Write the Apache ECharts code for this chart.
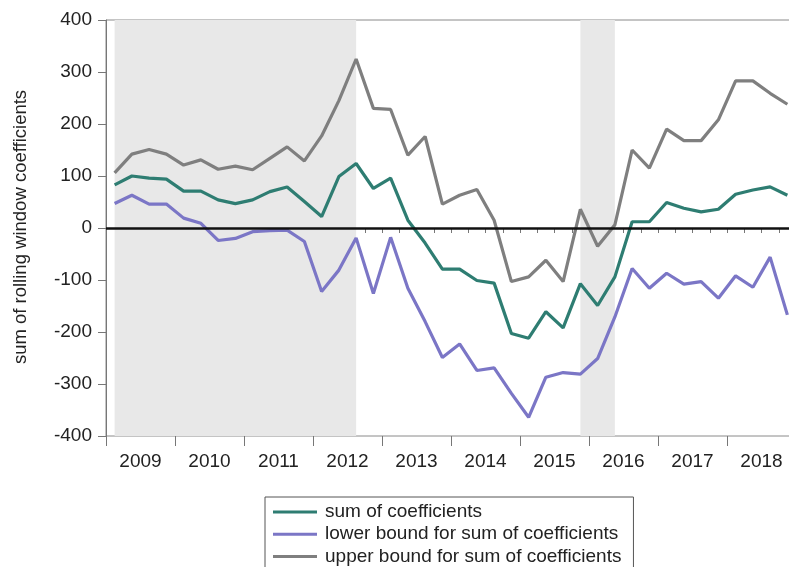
<!DOCTYPE html>
<html>
<head>
<meta charset="utf-8">
<script src="https://cdn.jsdelivr.net/npm/echarts@6/dist/echarts.min.js"></script>
<style>
html,body{margin:0;padding:0;background:#fff;}
#chart{width:789px;height:567px;}
</style>
</head>
<body>
<div id="chart"></div>
<script>
// ---- data ----
var years = [2009, 2010, 2011, 2012, 2013, 2014, 2015, 2016, 2017, 2018];
var quarters = ['Q1', 'Q2', 'Q3', 'Q4'];
var categories = [];
years.forEach(function (y) { quarters.forEach(function (q) { categories.push(y + q); }); });

var sumCoef = [83, 100, 96, 94, 71, 71, 54, 47, 54, 70, 79, 51, 22, 99, 124,
  76, 96, 15, -29, -79, -79, -101, -106, -203, -212, -161, -192, -107, -149,
  -94, 12, 12, 49, 38, 31, 36, 65, 73, 79, 63];
var lowerBound = [47, 63, 46, 46, 19, 9, -24, -20, -7, -5, -4, -26, -122, -81, -19,
  -126, -18, -116, -180, -249, -223, -274, -269, -318, -364, -287, -278, -281, -251,
  -171, -78, -116, -87, -108, -103, -135, -92, -114, -56, -167];
var upperBound = [106, 142, 151, 142, 121, 131, 113, 119, 112, 134, 156, 129, 177, 245, 325,
  230, 228, 140, 176, 46, 63, 74, 15, -103, -94, -62, -103, 36, -35,
  6, 150, 115, 190, 168, 168, 208, 283, 283, 259, 238];
var shaded = [['2009Q1', '2012Q3'], ['2015Q4', '2016Q2']];
var yTicks = { min: -400, max: 400, step: 100 };
var seriesNames = ['sum of coefficients', 'lower bound for sum of coefficients', 'upper bound for sum of coefficients'];

var chart = echarts.init(document.getElementById('chart'), null, { renderer: 'canvas' });
var FONT = 'Liberation Sans, Arial, sans-serif';
var nQ = categories.length;

var option = {
  animation: false,
  backgroundColor: '#fff',
  grid: { left: 106, top: 20, width: 690, height: 416, show: true, borderColor: '#8a8a8a', borderWidth: 1, containLabel: false, outerBoundsMode: 'none' },
  graphic: [{
    type: 'text', x: 21, y: 227, rotation: Math.PI / 2,
    style: { text: 'sum of rolling window coefficients', font: '18.5px ' + FONT, fill: '#222', align: 'center', verticalAlign: 'middle' }
  }],
  legend: {
    orient: 'vertical', left: 265, top: 497, height: 150,
    data: seriesNames,
    icon: 'rect', itemWidth: 44, itemHeight: 3, itemGap: 0.2,
    padding: [4, 12, 8, 8],
    borderColor: '#555', borderWidth: 1,
    textStyle: { fontFamily: FONT, fontSize: 19, color: '#222', lineHeight: 22, padding: [0, 0, 0, 3] }
  },
  xAxis: [
    {
      type: 'category', data: categories, boundaryGap: true, position: 'bottom',
      axisLine: { show: true, lineStyle: { color: '#777', width: 1 } },
      axisTick: { show: true, interval: 0, length: 5, lineStyle: { color: '#777' } },
      axisLabel: { show: false }, splitLine: { show: false }
    },
    {
      type: 'value', min: 0, max: nQ, interval: 4, gridIndex: 0, position: 'bottom',
      axisLine: { show: false },
      axisTick: { show: true, length: 10, lineStyle: { color: '#777' } },
      axisLabel: { show: false }, splitLine: { show: false }
    },
    {
      type: 'value', min: 0, max: nQ, interval: 2, gridIndex: 0, position: 'bottom',
      axisLine: { show: false }, axisTick: { show: false }, splitLine: { show: false },
      axisLabel: {
        show: true, margin: 16, fontFamily: FONT, fontSize: 19, color: '#222',
        formatter: function (v) {
          var k = (v - 2) / 4;
          if (k >= 0 && k < years.length && Math.abs(k - Math.round(k)) < 1e-6) return String(years[Math.round(k)]);
          return '';
        }
      }
    }
  ],
  yAxis: {
    type: 'value', min: yTicks.min, max: yTicks.max, interval: yTicks.step,
    axisLine: { show: true, lineStyle: { color: '#777', width: 1 } },
    axisTick: { show: true, length: 8, lineStyle: { color: '#777' } },
    axisLabel: { margin: 14, fontFamily: FONT, fontSize: 19, color: '#222' },
    splitLine: { show: false }
  },
  series: [
    {
      name: seriesNames[2], type: 'line', data: upperBound, xAxisIndex: 0, symbol: 'none',
      itemStyle: { color: '#7f7f7f' }, lineStyle: { color: '#7f7f7f', width: 3.2 }, z: 3,
      markArea: {
        silent: true, itemStyle: { color: '#e8e8e8' },
        data: shaded.map(function (s) { return [{ xAxis: s[0] }, { xAxis: s[1] }]; })
      }
    },
    {
      name: seriesNames[1], type: 'line', data: lowerBound, xAxisIndex: 0, symbol: 'none',
      itemStyle: { color: '#7b76c6' }, lineStyle: { color: '#7b76c6', width: 3.2 }, z: 3
    },
    {
      name: seriesNames[0], type: 'line', data: sumCoef, xAxisIndex: 0, symbol: 'none',
      itemStyle: { color: '#2e7d72' }, lineStyle: { color: '#2e7d72', width: 3.2 }, z: 3,
      markLine: {
        silent: true, symbol: 'none', label: { show: false },
        lineStyle: { color: '#111', width: 2.5, type: 'solid' },
        data: [{ yAxis: 0 }]
      }
    }
  ]
};
chart.setOption(option);
</script>
</body>
</html>
